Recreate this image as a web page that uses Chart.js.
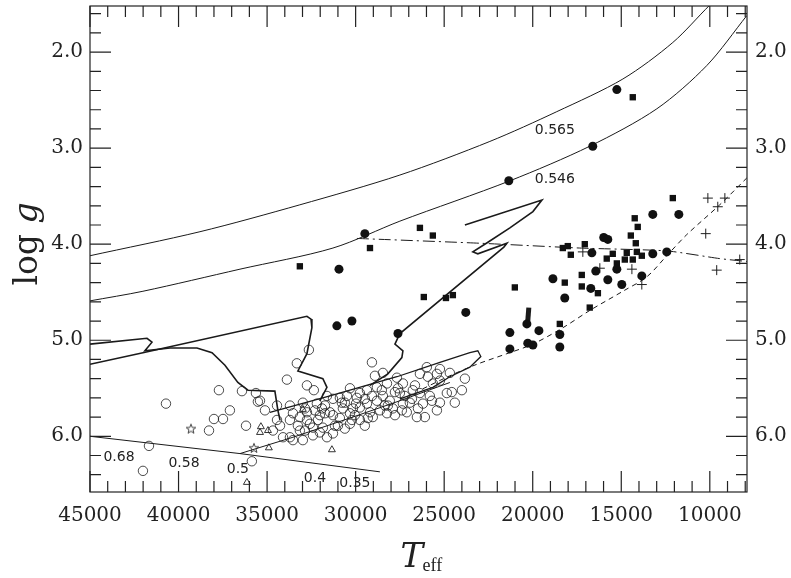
<!DOCTYPE html>
<html>
<head>
<meta charset="utf-8">
<script src="https://cdn.jsdelivr.net/npm/chart.js@4.4.0/dist/chart.umd.min.js"></script>
<style>
html, body { margin: 0; padding: 0; background: #fff; }
#wrap { width: 791px; height: 578px; position: relative; }
</style>
</head>
<body>
<div id="wrap"><canvas id="myChart"></canvas></div>
<script>
// axis ticks
var xMajor = [45000, 40000, 35000, 30000, 25000, 20000, 15000, 10000];
var yMajor = [2.0, 3.0, 4.0, 5.0, 6.0];

// curves [Teff, log g]
var line565 = [[45000,4.12],[38790,3.87],[33150,3.59],[27500,3.28],[22420,2.93],[18640,2.62],[14910,2.28],[12090,1.90],[10000,1.51],[8870,1.32]];
var line546 = [[45000,4.59],[42010,4.49],[36530,4.26],[31280,4.04],[27500,3.76],[21290,3.34],[16780,2.98],[12990,2.59],[10170,2.14],[7910,1.62]];
var tams = [[29930,3.94],[22980,3.99],[17340,4.04],[12430,4.07],[9440,4.15],[7910,4.18]];
var zaehb = [[7910,3.31],[9440,3.59],[11300,3.90],[12430,4.12],[13560,4.34],[14910,4.49],[16780,4.69],[18300,4.87],[19990,5.04],[21460,5.14],[23150,5.25],[24680,5.37],[26370,5.52]];
var zahb = [[45000,6.00],[36530,6.18],[28630,6.37]];
var bandLow = [[36530,6.18],[33540,6.01],[30320,5.81],[27500,5.63],[24680,5.44]];
var track1 = [[45000,5.04],[41780,4.98],[41500,5.02],[41900,5.11],[40480,5.08],[38960,5.08],[38110,5.13],[37380,5.26],[36650,5.44],[36080,5.52],[34560,5.53],[34390,5.73],[34270,5.83]];
var track2 = [[45000,5.25],[42010,5.13],[32750,4.75],[32520,4.78],[32470,4.87],[32750,5.14],[33260,5.32],[31850,5.40],[31620,5.49],[32020,5.63]];
var track3 = [[23830,3.80],[19480,3.54],[19990,3.66],[21290,3.83],[22530,3.98],[23380,4.08],[23100,4.10],[21460,3.99],[21630,4.03],[27500,4.93],[27780,5.04],[27330,5.11],[27390,5.18],[28180,5.35],[29190,5.47]];
var track4 = [[34840,5.75],[31450,5.58],[27670,5.38],[25240,5.23],[23550,5.13],[23100,5.11],[22930,5.17],[23550,5.28],[24680,5.38],[25640,5.49],[27500,5.61]];
var errBar = [[20220,4.66],[20280,4.80]];

// stars
var filledCircles = [[15250,2.39],[16610,2.98],[21350,3.34],[29480,3.89],[30940,4.26],[31060,4.85],[30210,4.80],[27610,4.93],[23780,4.71],[18860,4.36],[13220,3.69],[11750,3.69],[15990,3.93],[15760,3.95],[16660,4.09],[12430,4.08],[13220,4.10],[16440,4.28],[15250,4.26],[15760,4.37],[14970,4.42],[13840,4.33],[18190,4.56],[16720,4.46],[21290,4.92],[21290,5.09],[20330,4.83],[19650,4.90],[20280,5.03],[19990,5.05],[18470,4.94],[18470,5.07]];
var filledSquares = [[14350,2.47],[26370,3.83],[25640,3.91],[29190,4.04],[33150,4.23],[26150,4.55],[24900,4.56],[24510,4.53],[21010,4.45],[12090,3.52],[14240,3.73],[14070,3.82],[14460,3.91],[14180,3.99],[18020,4.02],[18300,4.04],[17060,4.00],[17850,4.11],[15820,4.15],[15480,4.10],[14690,4.09],[14120,4.08],[14800,4.16],[14350,4.16],[13840,4.12],[15250,4.20],[18190,4.40],[17230,4.32],[17230,4.44],[16320,4.51],[18470,4.83],[16780,4.66]];
var crosses = [[10110,3.52],[9150,3.52],[9550,3.61],[10230,3.89],[8310,4.16],[9610,4.27],[13840,4.42],[14400,4.26],[16210,4.25],[17170,4.08]];
var starsPts = [[39300,5.92],[35740,6.12]];
var triangles = [[35350,5.90],[35400,5.96],[34950,5.94],[34900,6.12],[31340,6.14],[32980,5.72],[36140,6.48]];
var openCircles = [[40710,5.66],[42010,6.36],[41670,6.10],[37720,5.52],[38000,5.82],[37490,5.82],[37100,5.73],[38280,5.94],[36420,5.53],[36190,5.89],[35630,5.55],[35520,5.64],[35120,5.73],[35860,6.26],[33880,5.41],[33320,5.24],[32640,5.10],[32750,5.47],[32360,5.52],[29080,5.23],[28460,5.34],[30320,5.50],[31280,5.97],
  [35400,5.63],[34670,5.94],[34440,5.68],[34440,5.83],[34270,5.89],[34100,6.01],[33710,5.68],[33710,5.83],[33710,6.01],[33540,5.76],[33540,6.04],[33150,5.80],[33150,5.94],[32980,5.65],[32980,6.04],[32750,5.75],[32750,5.83],[32580,5.87],[32410,5.91],[32410,5.99],[32190,5.66],[32020,5.78],[32020,5.96],[31850,5.91],[31730,5.76],[31620,5.58],[31620,6.01],[31450,5.75],[31280,5.61],[31280,5.78],[30890,5.60],[30890,5.81],[30720,5.71],[30490,5.58],[30320,5.76],[30320,5.87],[30150,5.71],[29930,5.60],[29760,5.55],[29760,5.70],[29760,5.83],[29360,5.52],[29360,5.66],[29030,5.80],[28910,5.37],[28800,5.49],[28800,5.63],[28630,5.73],[28230,5.45],[28230,5.76],[28070,5.63],[27900,5.71],[27670,5.39],[27500,5.55],[27330,5.45],[27330,5.66],[27110,5.75],[26770,5.52],[26540,5.80],[26370,5.35],[26370,5.55],[26200,5.66],[26090,5.80],[25980,5.28],[25640,5.45],[25410,5.73],[25410,5.35],[25240,5.30],[25240,5.42],[25240,5.65],[24850,5.55],[24570,5.54],
  [30610,5.65],[30040,5.78],[29480,5.61],[29190,5.75],[28460,5.58],[28350,5.68],[27780,5.54],[27220,5.58],[26940,5.65],[26650,5.47],[27780,5.78],[29480,5.89],[30610,5.92],[31170,5.89],[31730,5.68],[32300,5.73],[32860,5.94],[25810,5.58],
  [33260,5.89],[32860,5.71],[32130,5.83],[31900,5.71],[31000,5.89],[30780,5.65],[29980,5.66],[30210,5.83],[29080,5.58],[29310,5.81],[28520,5.52],[28180,5.68],[27610,5.50],[27390,5.73],[26820,5.61],[26480,5.71],[25920,5.38],[25690,5.63],[24680,5.34],[24400,5.65],[23830,5.40],[24000,5.52]];

// mass labels
var labelText = ['0.565', '0.546', '0.68', '0.58', '0.5', '0.4', '0.35'];
var labelT = [18750, 18750, 43360, 39690, 36650, 32300, 30040];
var labelG = [2.81, 3.32, 6.22, 6.28, 6.34, 6.44, 6.49];

function pts(a) { return a.map(function (p) { return { x: p[0], y: p[1] }; }); }

function curve(a, width, dash, tension) {
    return { data: pts(a), showLine: true, pointRadius: 0, borderColor: '#1a1a1a', borderWidth: width,
             borderDash: dash || [], tension: tension || 0, fill: false, order: 2 };
}
function marks(a, style, r, filled, bw) {
    return { data: pts(a), showLine: false, pointStyle: style, pointRadius: r,
             backgroundColor: filled ? '#111' : 'rgba(0,0,0,0)', borderColor: filled ? '#111' : '#1e1e1e',
             borderWidth: bw, order: 1 };
}

// open five-pointed star symbol
var starImg = document.createElement('canvas');
starImg.width = 12; starImg.height = 12;
(function () {
    var s = starImg.getContext('2d');
    s.beginPath();
    for (var i = 0; i < 10; i++) {
        var r = i % 2 === 0 ? 5 : 2.1, an = -Math.PI / 2 + i * Math.PI / 5;
        s.lineTo(6 + r * Math.cos(an), 6.5 + r * Math.sin(an));
    }
    s.closePath();
    s.strokeStyle = '#2a2a2a'; s.lineWidth = 0.9; s.stroke();
})();

var decor = {
    id: 'decor',
    afterDatasetsDraw: function (c) {
        var ctx = c.ctx, a = c.chartArea, xs = c.scales.x, ys = c.scales.y;
        ctx.save();
        ctx.strokeStyle = '#222';
        ctx.lineWidth = 1.2;
        ctx.strokeRect(a.left, a.top, a.right - a.left, a.bottom - a.top);
        ctx.beginPath();
        for (var t = 8000; t <= 45000; t += 1000) {
            var px = xs.getPixelForValue(t), len = t % 5000 === 0 ? 21 : 11;
            ctx.moveTo(px, a.bottom); ctx.lineTo(px, a.bottom - len);
            ctx.moveTo(px, a.top); ctx.lineTo(px, a.top + len);
        }
        for (var k = 8; k <= 32; k++) {
            var py = ys.getPixelForValue(k / 5), l2 = k % 5 === 0 ? 21 : 11;
            ctx.moveTo(a.left, py); ctx.lineTo(a.left + l2, py);
            ctx.moveTo(a.right, py); ctx.lineTo(a.right - l2, py);
        }
        ctx.stroke();

        ctx.fillStyle = '#222';
        ctx.font = '14px "DejaVu Sans"';
        ctx.textAlign = 'center';
        ctx.textBaseline = 'middle';
        for (var i = 0; i < labelText.length; i++) {
            ctx.fillText(labelText[i], xs.getPixelForValue(labelT[i]), ys.getPixelForValue(labelG[i]));
        }

        // axis titles
        var cx = (a.left + a.right) / 2;
        ctx.textAlign = 'left';
        ctx.textBaseline = 'alphabetic';
        ctx.font = 'italic 34px "DejaVu Serif"';
        ctx.fillText('T', cx - 18, 567);
        ctx.font = '18px "Liberation Serif"';
        ctx.fillText('eff', cx + 4, 571);

        ctx.translate(37, (a.top + a.bottom) / 2 - 5);
        ctx.rotate(-Math.PI / 2);
        ctx.font = '33px "DejaVu Serif"';
        var w1 = ctx.measureText('log ').width;
        ctx.font = 'italic 33px "DejaVu Serif"';
        var w2 = ctx.measureText('g').width;
        var sx = -(w1 + w2) / 2;
        ctx.font = '33px "DejaVu Serif"';
        ctx.fillText('log ', sx, 0);
        ctx.font = 'italic 33px "DejaVu Serif"';
        ctx.fillText('g', sx + w1, 0);
        ctx.restore();
    }
};

function noPad(s) { s.paddingTop = 0; s.paddingBottom = 0; s.paddingLeft = 0; s.paddingRight = 0; }

var tickFont = { family: 'DejaVu Serif', size: 20 };
function yAxis(pos, width, pad) {
    return {
        type: 'linear', axis: 'y', position: pos, reverse: true, min: 1.52, max: 6.58,
        grid: { display: false, drawTicks: false }, border: { display: false },
        afterBuildTicks: function (s) { s.ticks = yMajor.map(function (v) { return { value: v }; }); },
        afterFit: function (s) { s.width = width; noPad(s); },
        ticks: { font: tickFont, color: '#222', padding: pad, callback: function (v) { return v.toFixed(1); } }
    };
}

var ctx = document.getElementById('myChart').getContext('2d');
var chart = new Chart(ctx, {
    type: 'scatter',
    data: {
        datasets: [
            curve(line565, 1, null, 0.3),
            curve(line546, 1, null, 0.3),
            curve(tams, 1, [12, 4, 2, 4], 0.2),
            curve(zaehb, 1, [5, 4], 0.3),
            curve(zahb, 1),
            curve(bandLow, 1),
            curve(track1, 1.6),
            curve(track2, 1.6),
            curve(track3, 1.6),
            curve(track4, 1.3),
            curve(errBar, 5),
            marks(filledCircles, 'circle', 4.5, true, 0),
            marks(filledSquares, 'rect', 4.5, true, 0),
            marks(crosses, 'cross', 5, false, 1),
            marks(starsPts, starImg, 5, false, 0.9),
            marks(triangles, 'triangle', 4, false, 0.9),
            marks(openCircles, 'circle', 4.7, false, 0.8)
        ]
    },
    options: {
        responsive: true,
        maintainAspectRatio: false,
        animation: false,
        events: [],
        layout: { padding: { top: 4, left: 0, right: 0, bottom: 0 } },
        plugins: { legend: { display: false }, tooltip: { enabled: false } },
        scales: {
            x: {
                type: 'linear', position: 'bottom', reverse: true, min: 7900, max: 45000,
                grid: { display: false, drawTicks: false }, border: { display: false },
                afterBuildTicks: function (s) { s.ticks = xMajor.map(function (v) { return { value: v }; }); },
                afterFit: function (s) { s.height = 86; noPad(s); },
                ticks: { font: tickFont, color: '#222', padding: 12, maxRotation: 0, autoSkip: false,
                         callback: function (v) { return String(v); } }
            },
            y: yAxis('left', 90, 7),
            y2: yAxis('right', 44, 8)
        }
    },
    plugins: [decor]
});
</script>
</body>
</html>
